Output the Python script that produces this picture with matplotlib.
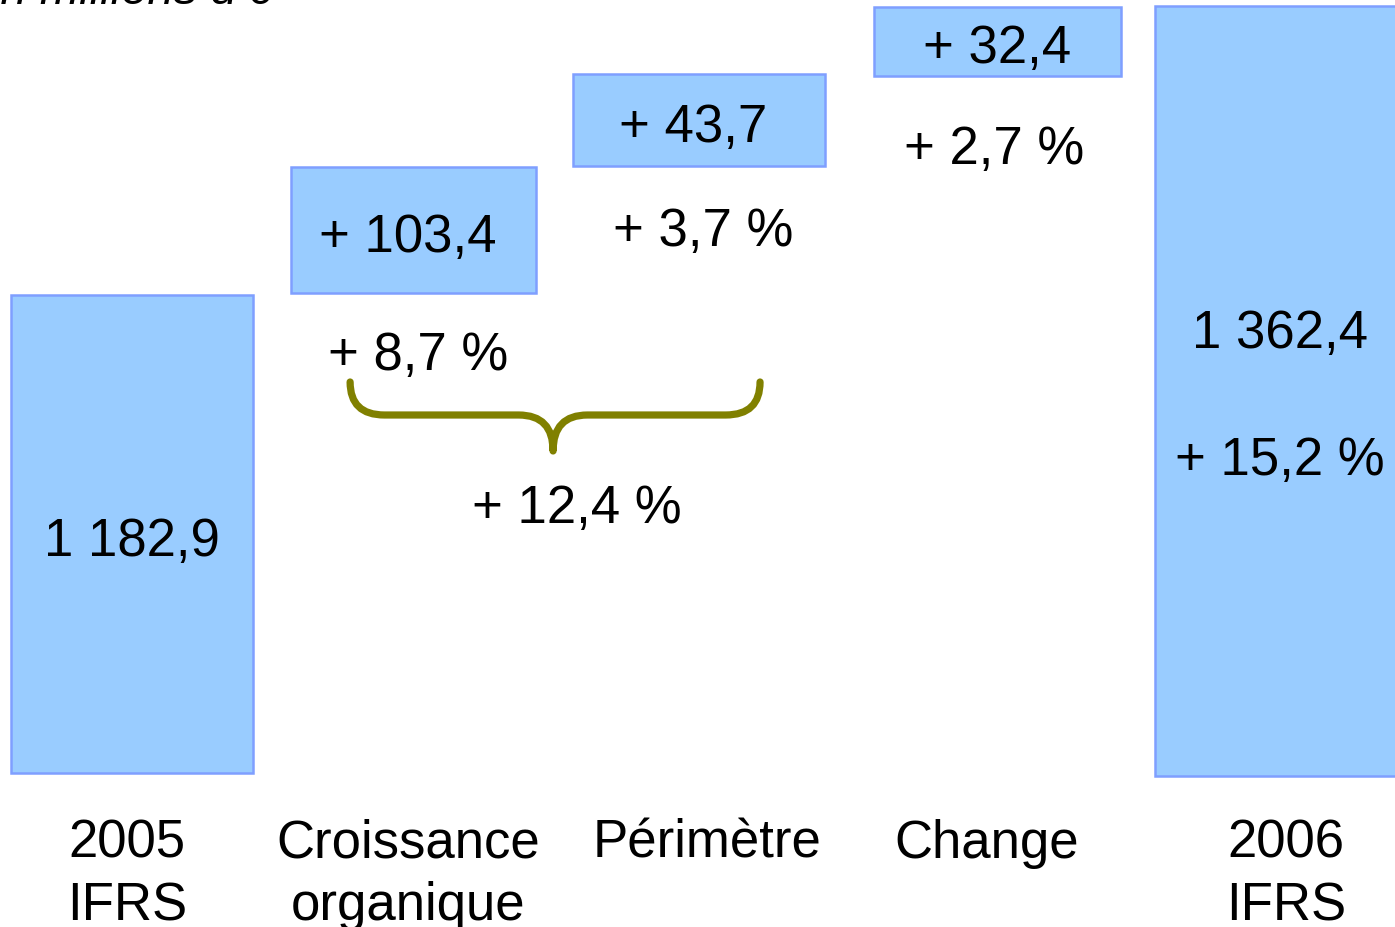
import numpy as np
import matplotlib
matplotlib.use('Agg')
import matplotlib.pyplot as plt
from matplotlib.path import Path
from matplotlib.patches import PathPatch

plt.rcParams['font.family'] = ['Liberation Sans', 'DejaVu Sans']

# data
categories = ['2005\nIFRS', 'Croissance\norganique', 'Périmètre', 'Change', '2006\nIFRS']
values = [1182.9, 103.4, 43.7, 32.4, 1362.4]
growth_pct = [None, 8.7, 3.7, 2.7, 15.2]
total_organic_perimetre = 12.4
# the chart is schematic (not to scale): drawn levels of each box
drawn_lo = [0, 480, 607, 697, -3]
drawn_hi = [478, 606, 699, 766, 767]

# layout
xpos = np.array([0, 0.983, 1.98, 3.023, 4.0])
widths = [0.845, 0.856, 0.88, 0.863, 0.856]
label_x = [-0.017, 0.964, 2.009, 2.987, 4.031]
pct_gap = [None, 62, 65, 73]
pct_dx = [None, 0.017, 0.017, -0.01]

FILL = '#99CCFF'
EDGE = '#7F9FFF'
OLIVE = '#808000'
FS = 38
DY = -7  # vertical nudge for centred text


def fr(v, sign=False):
    s = f"{v:,.1f}".replace(',', ' ').replace('.', ',')
    return '+ ' + s if sign else s


def pct(v):
    return f"+ {v:.1f} %".replace('.', ',')


fig = plt.figure(figsize=(13.95, 9.28), dpi=100)
ax = fig.add_axes([0, 0, 1, 1])
ax.set_xlim(-0.461, 4.412)
ax.set_ylim(-154, 774)
ax.axis('off')

lo = np.array(drawn_lo)
hi = np.array(drawn_hi)
ax.bar(xpos, hi - lo, bottom=lo, width=widths, color=FILL, edgecolor=EDGE,
       linewidth=1.8)

# category labels under the bars
for lx, cat in zip(label_x, categories):
    ax.text(lx, -45, cat, ha='center', va='top', fontsize=FS,
            linespacing=1.31)

# values
mid = (lo + hi) / 2
ax.text(xpos[0], mid[0] + DY, fr(values[0]), ha='center', va='center',
        fontsize=FS)
for i in (1, 2, 3):
    ax.text(xpos[i] - 0.02 * (i < 3), mid[i] + DY, fr(values[i], sign=True),
            ha='center', va='center', fontsize=FS)
    ax.text(xpos[i] + pct_dx[i], lo[i] - pct_gap[i], pct(growth_pct[i]),
            ha='center', va='center', fontsize=FS)
ax.text(xpos[4] + 0.01, mid[4] + 58, fr(values[4]), ha='center', va='center',
        fontsize=FS)
ax.text(xpos[4] + 0.01, mid[4] - 69, pct(growth_pct[4]), ha='center',
        va='center', fontsize=FS)

# brace grouping organic + perimetre
x0, x1, xc = 0.762, 2.194, 1.471
ytop, yh, ytip = 391, 358, 322
rx = 0.12
verts = [(x0, ytop), (x0, yh), (x0 + rx, yh),
         (xc - rx, yh), (xc, yh), (xc, ytip),
         (xc, yh), (xc + rx, yh),
         (x1 - rx, yh), (x1, yh), (x1, ytop)]
codes = [Path.MOVETO, Path.CURVE3, Path.CURVE3,
         Path.LINETO, Path.CURVE3, Path.CURVE3,
         Path.CURVE3, Path.CURVE3,
         Path.LINETO, Path.CURVE3, Path.CURVE3]
ax.add_patch(PathPatch(Path(verts, codes), fill=False, edgecolor=OLIVE,
                       linewidth=5.2, capstyle='round', joinstyle='round'))
ax.text(1.555, 265, pct(total_organic_perimetre), ha='center', va='center',
        fontsize=FS)

fig.text(272 / 1395, 1 - 4 / 928, "En millions d'€", ha='right', va='baseline',
         fontsize=34, style='italic')

fig.savefig('out.png', dpi=100)
